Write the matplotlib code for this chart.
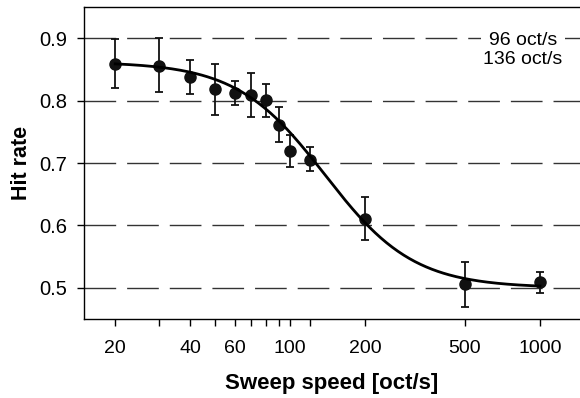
import numpy as np
import matplotlib
matplotlib.use("Agg")
import matplotlib.pyplot as plt

plt.rcParams['font.family'] = ['Liberation Sans', 'DejaVu Sans']

# Data
speed = [20, 30, 40, 50, 60, 70, 80, 90, 100, 120, 200, 500, 1000]
hit_rate = [0.859, 0.856, 0.838, 0.818, 0.812, 0.809, 0.801, 0.761, 0.720, 0.705, 0.611, 0.506, 0.509]
err_hi = [0.898, 0.900, 0.865, 0.858, 0.831, 0.845, 0.826, 0.789, 0.745, 0.725, 0.645, 0.542, 0.526]
err_lo = [0.820, 0.813, 0.810, 0.777, 0.793, 0.774, 0.774, 0.734, 0.694, 0.687, 0.577, 0.470, 0.492]
tick_labels = ['20', '', '40', '', '60', '', '', '', '100', '', '200', '500', '1000']
y_ticks = [0.5, 0.6, 0.7, 0.8, 0.9]

# Logistic fit parameters
fit_lower = 0.50
fit_upper = 0.862
fit_x50 = 138.0
fit_slope = 2.45

fig = plt.figure(figsize=(5.8, 3.98), dpi=100)
ax = fig.add_axes([0.1448, 0.1985, 0.8552, 0.7839])

for yv in y_ticks:
    ln, = ax.plot([15, 1445], [yv, yv], color='#333333', lw=1.0, zorder=1)
    ln.set_dashes([22.8, 7.9])

yl = np.array(hit_rate)
ax.errorbar(speed, hit_rate,
            yerr=[yl - np.array(err_lo), np.array(err_hi) - yl],
            fmt='o', color='#111111', ms=8, capsize=3.2, elinewidth=1.3,
            capthick=1.3, zorder=3)

xs = np.logspace(np.log10(20), np.log10(1000), 300)
ys = fit_lower + (fit_upper - fit_lower) / (1 + (xs / fit_x50) ** fit_slope)
ax.plot(xs, ys, color='black', lw=2.0, zorder=4)

ax.set_xscale('log')
ax.set_xlim(15, 1445)
ax.set_ylim(0.45, 0.95)
ax.set_xticks(speed, tick_labels)
ax.xaxis.set_minor_locator(matplotlib.ticker.NullLocator())
ax.set_yticks(y_ticks, ['0.5', '0.6', '0.7', '0.8', '0.9'])

ax.spines['right'].set_visible(False)
for s in ['left', 'bottom', 'top']:
    ax.spines[s].set_linewidth(1.0)
ax.tick_params(axis='both', direction='out', length=5, width=1.0, labelsize=14)
ax.tick_params(axis='y', labelsize=14.5, pad=7)
ax.tick_params(axis='x', pad=10)

ax.set_xlabel('Sweep speed [oct/s]', fontsize=16, fontweight='bold', labelpad=12)
ax.set_ylabel('Hit rate', fontsize=15.5, fontweight='bold', labelpad=5)

ax.text(0.885, 0.861, '96 oct/s\n136 oct/s', transform=ax.transAxes,
        ha='center', va='center', fontsize=14, linespacing=1.15,
        bbox=dict(facecolor='white', edgecolor='none', pad=2), zorder=5)

fig.savefig('out.png', dpi=100)
